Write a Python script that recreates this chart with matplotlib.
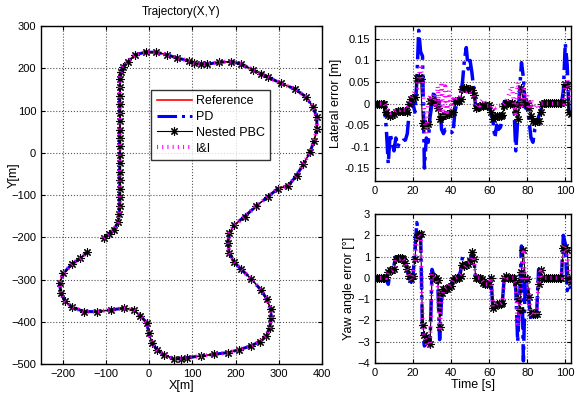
import numpy as np
import matplotlib
matplotlib.use('Agg')
import matplotlib.pyplot as plt
from matplotlib.ticker import FuncFormatter

plt.rcParams['font.family'] = ['Liberation Sans', 'DejaVu Sans']
plt.rcParams['font.size'] = 8

# --- trajectory (reference path, all controllers overlap it) ---
traj_x = [-105, -93, -82, -72, -69, -68, -68, -68, -68, -68, -68, -68, -68, -68, -68, -68,
          -68, -68, -68, -68, -68, -66, -61, -49, -32, -8, 15, 42, 65, 92, 104, 120, 135,
          162, 189, 213, 240, 258, 275, 306, 337, 362, 379, 388, 388, 382, 372, 357, 341,
          322, 298, 275, 248, 221, 197, 186, 182, 186, 197, 213, 236, 258, 273, 281, 283,
          279, 271, 256, 236, 209, 182, 151, 120, 88, 73, 57, 34, 18, 7, -1, -5, -20, -36,
          -59, -89, -120, -151, -178, -194, -204, -207, -198, -178, -159, -144]
traj_y = [-202, -192, -183, -165, -145, -125, -105, -85, -65, -45, -25, -5, 15, 35, 55, 75,
          95, 115, 135, 155, 175, 190, 203, 216, 232, 238, 238, 232, 224, 218, 212, 210, 210,
          214, 216, 210, 196, 187, 179, 164, 151, 133, 109, 84, 56, 29, 1, -27, -54,
          -78, -85, -104, -126, -151, -171, -190, -213, -237, -259, -276, -298, -324, -347,
          -371, -390, -414, -433, -447, -457, -466, -473, -477, -481, -485, -487, -488, -478,
          -466, -450, -427, -403, -386, -372, -368, -372, -376, -376, -365, -352, -332, -309,
          -285, -263, -250, -236]

# --- time series, one value per second ---
time_s = np.arange(0, 104)

lat_pd = [0, 0, 0, 0, 0, -0.005, -0.06, -0.14, -0.07, -0.09, -0.11, -0.08, -0.1, -0.09, -0.09,
          -0.085, -0.085, -0.07, -0.02, 0.01, 0.0, -0.02, 0.05, 0.17, 0.12, 0.11, -0.15, -0.08,
          -0.09, -0.03, 0.0, 0.03, 0.0, -0.01, 0.005, -0.06, -0.07, -0.06, -0.06, -0.065, -0.065,
          -0.07, -0.02, 0.0, 0.01, 0.02, 0.05, 0.1, 0.13, 0.08, 0.1, 0.07, 0.03, -0.01, -0.005,
          -0.02, 0.0, -0.005, -0.005, -0.01, -0.01, -0.02, -0.04, -0.08, -0.05, -0.06, -0.055,
          -0.02, 0.005, -0.005, 0.0, 0.0, 0.0, -0.005, -0.11, -0.04, 0.03, 0.095, 0.06, -0.01,
          -0.01, -0.04, -0.08, -0.09, -0.06, -0.05, -0.03, -0.02, 0.0, 0, 0, 0, 0, 0, 0, 0, 0,
          0, 0, 0.03, 0.14, 0.09, -0.03, -0.02]
lat_pbc = [0, 0, 0, 0, 0, 0, -0.02, -0.027, -0.028, -0.027, -0.025, -0.02, -0.018, -0.018,
           -0.017, -0.018, -0.017, -0.02, 0.0, 0.01, 0.012, 0.015, 0.06, 0.062, 0.058, -0.045,
           -0.052, -0.05, -0.048, 0.005, 0.008, 0.004, 0.003, -0.01, -0.035, -0.03, -0.028,
           -0.026, -0.025, -0.024, -0.022, -0.02, 0.005, 0.006, 0.005, 0.01, 0.033, 0.036,
           0.035, 0.034, 0.033, 0.032, 0.02, -0.01, -0.008, -0.005, -0.004, -0.006, -0.003,
           -0.005, -0.004, -0.02, -0.035, -0.032, -0.03, -0.029, -0.028, -0.027, -0.005, 0.002,
           0.001, 0.0, 0.002, 0.0, -0.02, -0.035, 0.0, 0.035, 0.005, 0.0, 0.002, -0.01, -0.03,
           -0.04, -0.042, -0.04, -0.04, -0.02, 0.0, 0.002, 0.002, 0.002, 0.002, 0.002, 0.002,
           0.002, 0.002, 0.002, 0.002, 0.003, 0.045, 0.04, -0.02, -0.025]
lat_ii = [0, 0, 0, 0, 0, 0, -0.01, -0.02, -0.022, -0.02, -0.02, -0.015, -0.015, -0.015, -0.012,
          -0.015, -0.015, -0.01, 0.0, 0.01, 0.02, 0.03, 0.035, 0.06, 0.09, 0.05, -0.03, -0.07,
          0.0, 0.02, 0.01, 0.02, -0.01, 0.04, -0.02, 0.05, -0.03, 0.04, -0.02, 0.03, -0.015,
          0.01, 0.005, 0.01, 0.01, 0.02, 0.03, 0.03, 0.028, 0.03, 0.028, 0.025, 0.02, -0.005,
          0.0, -0.005, 0.005, 0.01, 0.0, -0.005, -0.005, -0.01, -0.005, -0.01, -0.005, -0.005,
          -0.005, -0.005, 0.0, 0.005, 0.015, 0.03, 0.04, 0.0, -0.03, 0.05, 0.02, -0.01, 0.04,
          0.01, 0.02, -0.02, 0.01, -0.01, -0.01, -0.005, -0.01, 0.0, 0, 0, 0, 0, 0, 0, 0, 0, 0,
          0, 0, 0, 0.05, 0.055, 0.03, 0.0]

yaw_pd = [0, 0, 0, 0, 0, 0, -0.1, -0.3, 0.3, 0.5, 0.6, 1.0, 0.95, 0.95, 0.9, 0.85, 0.6, 0.3,
          0.0, -0.2, 0.1, 1.2, 2.6, 2.1, 2.0, -2.6, -3.2, -2.9, -3.0, -3.0, 0.4, 0.1, 0.0, -0.2,
          -2.9, -1.0, -0.6, -0.5, -0.5, -0.4, -0.35, -0.05, 0.0, 0.05, 0.1, 0.3, 1.0, 0.6, 0.6,
          0.7, 0.9, 1.1, 0.8, 0.0, -0.05, 0.0, -0.1, -0.3, -0.35, -0.3, -0.25, 0.0, -1.5, -1.4,
          -1.3, -1.3, -1.2, -1.1, 0.1, 0.1, 0.0, 0.0, 0.0, 0.0, -0.5, -3.0, -1.0, 1.5, -3.9, 0.0,
          -0.1, -1.2, -2.0, -1.9, -1.8, -1.6, 0.4, 0.2, 0.0, 0, 0, 0, 0, 0, 0, 0, 0, 0, 0, 2.0,
          1.6, -0.6, -0.3, -0.5]
yaw_pbc = [0, 0, 0, 0, 0, 0, 0.05, 0.3, 0.35, 0.35, 0.4, 0.9, 0.95, 0.95, 0.95, 0.9, 0.7, 0.4,
           0.1, -0.05, 0.1, 0.9, 1.9, 2.05, 2.05, -2.2, -2.7, -2.8, -3.0, -3.1, 0.1, 0.0, 0.0,
           -0.1, -2.3, -0.7, -0.5, -0.5, -0.5, -0.45, -0.4, -0.1, 0.0, 0.0, 0.0, 0.1, 0.6, 0.55,
           0.6, 0.65, 0.8, 1.2, 0.9, 0.0, 0.0, 0.0, -0.05, -0.25, -0.3, -0.3, -0.3, 0.0, -1.4,
           -1.3, -1.25, -1.25, -1.25, -1.2, 0.0, 0.1, 0.0, 0.0, 0.0, 0.0, -0.2, -1.0, -1.5, 0.3,
           1.3, 0.0, -0.05, -0.9, -1.6, -1.7, -1.7, -1.7, -0.3, 0.35, 0.0, 0, 0, 0, 0, 0, 0, 0,
           0, 0, 0, 1.4, 1.45, 1.3, 0.0, -0.2]
yaw_ii = [0, 0, 0, 0, 0, 0, 0.0, 0.25, 0.3, 0.35, 0.5, 0.85, 0.9, 0.9, 0.95, 0.85, 0.6, 0.35,
          0.05, -0.1, 0.15, 0.8, 1.8, 2.0, 1.9, -2.0, -2.8, -3.0, -3.3, -3.1, 0.2, 0.05, -0.05,
          -0.3, -2.5, -1.0, -0.6, -0.5, -0.45, -0.4, -0.3, -0.1, 0.0, 0.05, 0.1, 0.2, 0.5, 0.5,
          0.6, 0.7, 0.75, 1.0, 0.85, 0.05, 0.0, 0.0, -0.1, -0.2, -0.3, -0.3, -0.2, 0.0, -1.35,
          -1.3, -1.2, -1.25, -1.2, -1.1, 0.0, 0.1, 0.0, 0.0, 0.0, 0.0, -0.3, -2.3, -1.8, 0.4,
          1.2, -0.1, 0.0, -0.8, -1.7, -1.8, -1.6, -1.7, -0.2, 0.3, 0.0, 0, 0, 0, 0, 0, 0, 0, 0,
          0, 0, 1.3, 1.5, 1.2, 0.1, -0.2]

STAR = (8, 2, 0)
II_DASH = (0, (0.25, 1.0))


def style_axes(ax):
    ax.grid(True, linestyle=':', color='#555555', linewidth=0.8)
    ax.tick_params(direction='in', top=True, right=True, length=3, labelsize=8)
    for s in ax.spines.values():
        s.set_linewidth(1.0)


fig = plt.figure(figsize=(5.84, 3.93), dpi=100)

ax_tr = fig.add_axes([0.0702, 0.0738, 0.4812, 0.860])
ax_tr.plot(traj_x, traj_y, color='red', lw=1.2, label='Reference')
ax_tr.plot(traj_x, traj_y, color='blue', lw=2.2, linestyle='-.', label='PD')
ax_tr.plot(traj_x, traj_y, color='black', lw=0.8, marker=STAR, ms=6, mew=0.8, label='Nested PBC')
ax_tr.plot(traj_x, traj_y, color='magenta', lw=3, linestyle=II_DASH, dash_capstyle='butt', label='I&I')
ax_tr.set_xlim(-250, 400)
ax_tr.set_ylim(-500, 300)
ax_tr.set_xticks(range(-200, 401, 100))
ax_tr.set_yticks(range(-500, 301, 100))
ax_tr.set_title('Trajectory(X,Y)', fontsize=8.5, pad=8)
ax_tr.set_xlabel('X[m]', fontsize=9, labelpad=1)
ax_tr.set_ylabel('Y[m]', fontsize=9)
ax_tr.yaxis.set_label_coords(-0.075, 0.56)
style_axes(ax_tr)
leg = ax_tr.legend(loc='upper left', bbox_to_anchor=(0.37, 0.83), fontsize=9,
                   frameon=True, fancybox=False, edgecolor='black', handlelength=2.8,
                   borderpad=0.45, labelspacing=0.3, handletextpad=0.3)
leg.get_frame().set_linewidth(1.0)

ax_lat = fig.add_axes([0.642, 0.5394, 0.3357, 0.3944])
ax_lat.plot(time_s, lat_pd, color='blue', lw=2.5, linestyle='-.')
ax_lat.plot(time_s, lat_pbc, color='black', lw=0.8, marker=STAR, ms=6, mew=0.8)
ax_lat.plot(time_s, lat_ii, color='magenta', lw=3, linestyle=II_DASH, dash_capstyle='butt')
ax_lat.set_xlim(0, 103)
ax_lat.set_ylim(-0.18, 0.18)
ax_lat.set_xticks(range(0, 101, 20))
ax_lat.set_yticks([-0.15, -0.1, -0.05, 0, 0.05, 0.1, 0.15])
ax_lat.yaxis.set_major_formatter(FuncFormatter(lambda v, p: f'{v:g}'))
ax_lat.set_ylabel('Lateral error [m]', fontsize=9, labelpad=2)
style_axes(ax_lat)

ax_yaw = fig.add_axes([0.642, 0.0763, 0.3357, 0.379])
ax_yaw.plot(time_s, yaw_pd, color='blue', lw=2.5, linestyle='-.')
ax_yaw.plot(time_s, yaw_pbc, color='black', lw=0.8, marker=STAR, ms=6, mew=0.8)
ax_yaw.plot(time_s, yaw_ii, color='magenta', lw=3, linestyle=II_DASH, dash_capstyle='butt')
ax_yaw.set_xlim(0, 103)
ax_yaw.set_ylim(-4, 3)
ax_yaw.set_xticks(range(0, 101, 20))
ax_yaw.set_yticks(range(-4, 4))
ax_yaw.set_xlabel('Time [s]', fontsize=9, labelpad=1)
ax_yaw.set_ylabel('Yaw angle error [°]', fontsize=9, labelpad=2)
style_axes(ax_yaw)

fig.savefig('out.png', dpi=100)
